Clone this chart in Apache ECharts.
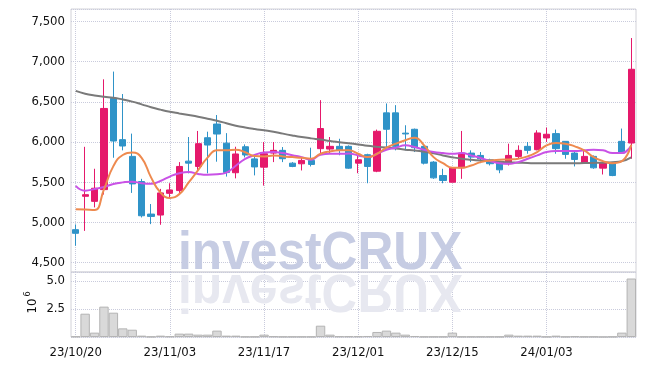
<!DOCTYPE html>
<html>
<head>
<meta charset="utf-8">
<script src="https://cdn.jsdelivr.net/npm/echarts@6/dist/echarts.min.js"></script>
<style>
html, body { margin: 0; padding: 0; background: #fff; }
#chart { width: 645px; height: 366px; }
</style>
</head>
<body>
<div id="chart"></div>
<script>
// trading days, yy/mm/dd
var dates = [
    '23/10/20', '23/10/23', '23/10/24', '23/10/25', '23/10/26', '23/10/27', '23/10/30', '23/10/31',
    '23/11/01', '23/11/02', '23/11/03', '23/11/06', '23/11/07', '23/11/08', '23/11/09', '23/11/10',
    '23/11/13', '23/11/14', '23/11/15', '23/11/16', '23/11/17', '23/11/20', '23/11/21', '23/11/22',
    '23/11/23', '23/11/24', '23/11/27', '23/11/28', '23/11/29', '23/11/30', '23/12/01', '23/12/04',
    '23/12/05', '23/12/06', '23/12/07', '23/12/08', '23/12/11', '23/12/12', '23/12/13', '23/12/14',
    '23/12/15', '23/12/18', '23/12/19', '23/12/20', '23/12/21', '23/12/22', '23/12/26', '23/12/27',
    '23/12/28', '24/01/02', '24/01/03', '24/01/04', '24/01/05', '24/01/08', '24/01/09', '24/01/10',
    '24/01/11', '24/01/12', '24/01/15', '24/01/16'
];
var opens = [4910, 5325, 5262, 5408, 6542, 6029, 5821, 5508, 5104, 5092,
    5362, 5396, 5762, 5696, 6053, 6223, 5985, 5618, 5941, 5790,
    5687, 5862, 5896, 5737, 5729, 5771, 5917, 5912, 5946, 5946,
    5737, 5842, 5637, 6362, 6362, 6110, 6158, 5946, 5750, 5583,
    5500, 5679, 5862, 5833, 5780, 5737, 5729, 5821, 5946, 5904,
    6050, 6104, 6008, 5862, 5737, 5821, 5675, 5737, 6008, 5987];
var closes = [4865, 5345, 5425, 6417, 6012, 5950, 5479, 5083, 5075, 5367,
    5404, 5696, 5737, 5979, 5962, 6099, 5620, 5851, 5838, 5690,
    5854, 5896, 5792, 5696, 5771, 5721, 6167, 5946, 5896, 5675,
    5779, 5696, 6133, 6158, 5946, 6100, 5929, 5737, 5554, 5521,
    5679, 5862, 5812, 5792, 5730, 5654, 5833, 5896, 5896, 6112,
    6096, 5917, 5846, 5783, 5821, 5679, 5742, 5583, 5862, 6904];
var lows = [4710, 4895, 5187, 5346, 5804, 5896, 5367, 5062, 4979, 4971,
    5292, 5354, 5610, 5646, 5610, 5755, 5570, 5548, 5808, 5585,
    5458, 5750, 5750, 5687, 5646, 5696, 5855, 5854, 5835, 5667,
    5612, 5487, 5625, 5929, 5896, 5896, 5875, 5721, 5542, 5487,
    5500, 5542, 5750, 5737, 5708, 5612, 5708, 5792, 5854, 5896,
    6000, 5854, 5792, 5696, 5729, 5667, 5596, 5575, 5854, 5792];
var highs = [4975, 5940, 5667, 6779, 6875, 6596, 6104, 5542, 5229, 5417,
    5487, 5750, 6062, 6137, 6128, 6335, 6110, 5941, 5970, 5835,
    6000, 6000, 5937, 5750, 5812, 5929, 6520, 6062, 6040, 5958,
    5833, 5854, 6154, 6479, 6458, 6208, 6167, 5958, 5762, 5667,
    5687, 6137, 5896, 5875, 5792, 5750, 5979, 5958, 6000, 6146,
    6179, 6154, 6010, 5896, 5887, 5833, 5750, 5750, 6167, 7292];

// moving averages as drawn
var maShort = [5165, 5160, 5155, 5410, 5700, 5838, 5868, 5803, 5560, 5372,
    5305, 5352, 5497, 5650, 5805, 5898, 5896, 5905, 5872, 5825,
    5821, 5833, 5821, 5812, 5804, 5792, 5854, 5883, 5896, 5896,
    5854, 5812, 5854, 5929, 5979, 6021, 6054, 5958, 5812, 5737,
    5679, 5679, 5708, 5750, 5771, 5779, 5783, 5792, 5821, 5875,
    5958, 5987, 5979, 5946, 5896, 5812, 5762, 5737, 5762, 5965];
var maMid = [5455, 5395, 5415, 5440, 5478, 5498, 5507, 5487, 5480, 5515,
    5570, 5612, 5628, 5603, 5592, 5598, 5620, 5705, 5790, 5838,
    5870, 5875, 5862, 5835, 5812, 5780, 5842, 5854, 5854, 5856,
    5833, 5812, 5854, 5904, 5929, 5958, 5937, 5904, 5875, 5862,
    5854, 5862, 5833, 5800, 5762, 5737, 5729, 5750, 5792, 5833,
    5875, 5887, 5887, 5887, 5896, 5904, 5896, 5862, 5862, 5958];
var maLong = [6635, 6600, 6578, 6562, 6550, 6528, 6502, 6468, 6432, 6402,
    6376, 6355, 6335, 6314, 6290, 6264, 6233, 6203, 6180, 6161,
    6145, 6128, 6104, 6082, 6062, 6045, 6030, 6012, 5998, 5985,
    5970, 5953, 5941, 5930, 5918, 5905, 5893, 5878, 5860, 5832,
    5810, 5792, 5780, 5770, 5762, 5755, 5748, 5743, 5738, 5735,
    5735, 5735, 5735, 5736, 5738, 5740, 5743, 5748, 5762, 5810];

// volume, millions
var volumes = [0.05, 2.08, 0.39, 2.71, 2.17, 0.77, 0.65, 0.12, 0.03, 0.12,
    0.06, 0.30, 0.30, 0.21, 0.21, 0.57, 0.12, 0.12, 0.03, 0.03,
    0.21, 0.06, 0.03, 0.03, 0.03, 0.03, 1.01, 0.21, 0.06, 0.06,
    0.06, 0.09, 0.45, 0.57, 0.39, 0.21, 0.09, 0.03, 0.03, 0.03,
    0.39, 0.03, 0.03, 0.03, 0.03, 0.03, 0.21, 0.12, 0.12, 0.12,
    0.03, 0.12, 0.03, 0.06, 0.03, 0.03, 0.01, 0.03, 0.39, 5.22];

var candles = [];
for (var i = 0; i < dates.length; i++) {
    candles.push([opens[i], closes[i], lows[i], highs[i]]);
}

var labelFont = "'DejaVu Sans Condensed', sans-serif";
var dotted = {color: '#c9cbdc', type: 'dotted', width: 1};
var wmFont = 'bold 54px "Liberation Sans", sans-serif';

var chart = echarts.init(document.getElementById('chart'));
var option = {
    animation: false,
    grid: [
        {left: 71, right: 9, top: 9, height: 263, show: true, borderColor: '#d2d2d8', borderWidth: 1},
        {left: 71, right: 9, top: 272, height: 65, show: true, borderColor: '#d2d2d8', borderWidth: 1}
    ],
    graphic: [
        // watermark and its reflection
        {
            type: 'text', x: 178, y: 254, z: 1, silent: true, scaleX: 0.92,
            style: {text: 'investCRUX', fill: '#c6cce3', font: wmFont, verticalAlign: 'middle'}
        },
        {
            type: 'text', x: 178, y: 254, z: 1, silent: true, scaleX: 0.92, scaleY: -1, originX: 0, originY: 18,
            style: {text: 'investCRUX', fill: '#e7e8f0', font: wmFont, verticalAlign: 'middle'}
        },
        // 10^6 unit
        {
            type: 'text', x: 33, y: 306, rotation: Math.PI / 2, silent: true,
            style: {text: '10', fill: '#111', font: '13px ' + labelFont, align: 'center', verticalAlign: 'middle'}
        },
        {
            type: 'text', x: 28, y: 294, rotation: Math.PI / 2, silent: true,
            style: {text: '6', fill: '#111', font: '9px ' + labelFont, align: 'center', verticalAlign: 'middle'}
        }
    ],
    xAxis: [
        {
            type: 'category', gridIndex: 0, data: dates,
            axisLine: {show: false}, axisTick: {show: false}, axisLabel: {show: false},
            splitLine: {show: true, interval: 9, alignWithLabel: true, lineStyle: dotted}
        },
        {
            type: 'category', gridIndex: 1, data: dates,
            axisLine: {show: false}, axisTick: {show: false},
            axisLabel: {interval: 9, margin: 9, fontSize: 13, color: '#111', fontFamily: labelFont},
            splitLine: {show: true, interval: 9, alignWithLabel: true, lineStyle: dotted}
        }
    ],
    yAxis: [
        {
            type: 'value', gridIndex: 0, min: 4384, max: 7653, splitNumber: 5,
            axisLine: {show: false}, axisTick: {show: false},
            axisLabel: {
                showMinLabel: false, showMaxLabel: false, margin: 6,
                fontSize: 13, color: '#111', fontFamily: labelFont,
                formatter: function (v) { return v.toLocaleString('en-US'); }
            },
            splitLine: {lineStyle: dotted}
        },
        {
            type: 'value', gridIndex: 1, min: 0, max: 5.8, interval: 2.5,
            axisLine: {show: false}, axisTick: {show: false},
            axisLabel: {
                showMinLabel: false, showMaxLabel: false, margin: 6,
                fontSize: 13, color: '#111', fontFamily: labelFont,
                formatter: function (v) { return v.toFixed(1); }
            },
            splitLine: {lineStyle: dotted}
        }
    ],
    series: [
        {
            name: 'price', type: 'candlestick', xAxisIndex: 0, yAxisIndex: 0,
            data: candles, barWidth: '70%',
            itemStyle: {color: '#e5196b', color0: '#2f93c8', borderColor: '#e5196b', borderColor0: '#2f93c8', borderWidth: 1}
        },
        {
            name: 'MA long', type: 'line', data: maLong, smooth: true, showSymbol: false,
            lineStyle: {color: '#7a7a7a', width: 2}, z: 3
        },
        {
            name: 'MA mid', type: 'line', data: maMid, smooth: true, showSymbol: false,
            lineStyle: {color: '#c952e6', width: 2}, z: 3
        },
        {
            name: 'MA short', type: 'line', data: maShort, smooth: true, showSymbol: false,
            lineStyle: {color: '#ee8a4f', width: 2}, z: 3
        },
        {
            name: 'volume', type: 'bar', xAxisIndex: 1, yAxisIndex: 1,
            data: volumes, barWidth: '100%',
            itemStyle: {color: '#d9d9d9', borderColor: '#b4b4b4', borderWidth: 1}
        }
    ]
};
chart.setOption(option);
</script>
</body>
</html>
